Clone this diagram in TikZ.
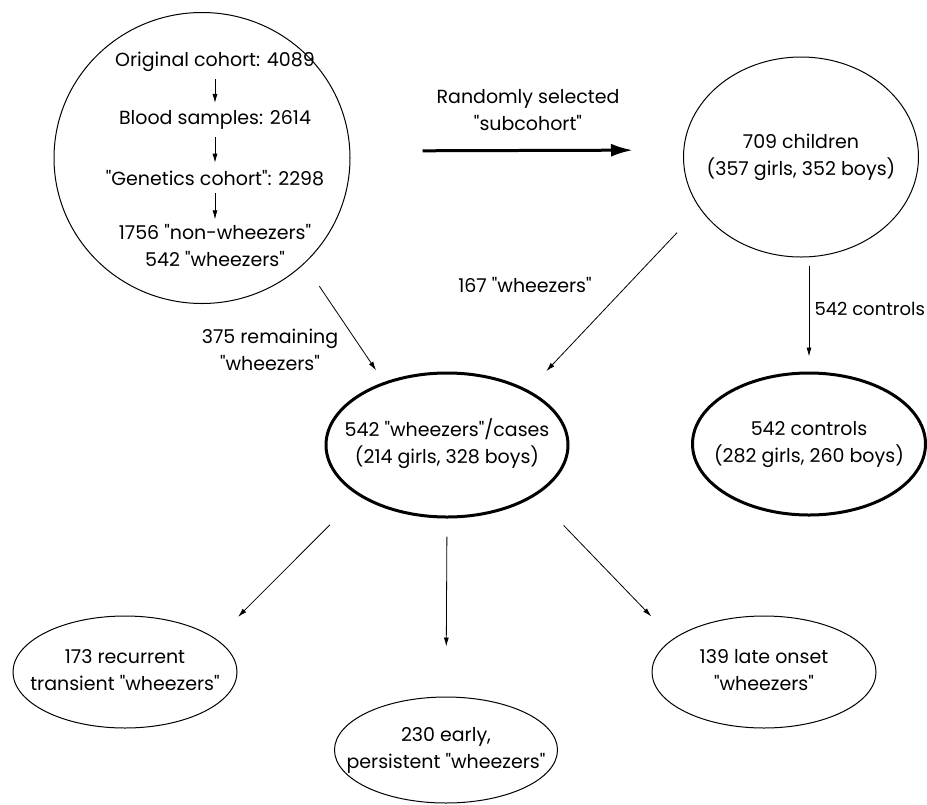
\documentclass[tikz,border=0pt]{standalone}
\usepackage{fontspec}
\setmainfont{Poppins}[Ligatures=TeXOff]
\usepackage{tikz}
\usetikzlibrary{shapes.geometric,arrows.meta}
\newcommand{\ovaltext}[1]{\makebox[0pt]{\begin{tabular}{@{}c@{}}#1\end{tabular}}}
\tikzset{
  group/.style = {shape=ellipse, draw, line width=1pt, inner sep=0pt},
  major/.style = {group, line width=3pt},
  flow/.style  = {draw, line width=0.8pt, -{Latex[length=9pt,width=5pt]}},
  note/.style  = {align=center}
}

\begin{document}
\begin{tikzpicture}
  [
    x = 1pt, y = -1pt,
    every node/.style = {font=\fontsize{19}{27}\selectfont}
  ]
  \useasboundingbox (0,0) rectangle (927,804);

  % whole cohort
  \node [group, minimum width=296pt, minimum height=291pt] (tl) at (202,158) {};
  \node (orig)  at (215,62)  {Original cohort: 4089};
  \node (blood) at (215,120) {Blood samples: 2614};
  \node (gen)   at (215,178) {"Genetics cohort": 2298};
  \node [note] (split) at (215,246) {1756 "non-wheezers"\\542 "wheezers"};
  \draw [flow, shorten <=4pt, shorten >=4pt] (orig) -- (blood);
  \draw [flow, shorten <=4pt, shorten >=4pt] (blood) -- (gen);
  \draw [flow, shorten <=4pt, shorten >=2pt] (gen) -- (split);

  % subcohort
  \node [group, minimum width=235pt, minimum height=200pt] (ch) at (801,157)
    {\ovaltext{709 children\\(357 girls, 352 boys)}};
  \draw [line width=3pt, -{Latex[length=22pt,width=13pt]},
         shorten <=72pt, shorten >=50pt]
    ([yshift=7pt]tl.east) -- ([yshift=7pt]ch.west);
  \node [note] (rand) at (528,110) {Randomly selected\\"subcohort"};

  % cases and controls
  \node [major, minimum width=242pt, minimum height=144pt] (cases) at (447,445)
    {\ovaltext{542 "wheezers"/cases\\(214 girls, 328 boys)}};
  \node [major, minimum width=233pt, minimum height=142pt] (ctrl) at (809,444)
    {\ovaltext{542 controls\\(282 girls, 260 boys)}};
  \draw [flow, shorten <=27pt, shorten >=14pt] (tl.-46) -- (cases.135);
  \draw [flow, shorten <=33pt, shorten >=26pt] (ch.-153) -- (cases.34);
  \draw [flow, shorten <=8pt, shorten >=15pt] (ch.south -| ctrl.north) -- (ctrl.north);
  \node [note] (remain) at (270,350) {375 remaining\\"wheezers"};
  \node (sel) at (525,285) {167 "wheezers"};
  \node [anchor=west, font=\fontsize{18}{27}\selectfont] (ctrllab) at (811,309)
    {542 controls};

  % wheezing phenotypes
  \node [group, minimum width=224pt, minimum height=112pt] (rec) at (125,672)
    {\ovaltext{173 recurrent\\transient "wheezers"}};
  \node [group, minimum width=223pt, minimum height=106pt] (early) at (446,750)
    {\ovaltext{230 early,\\persistent "wheezers"}};
  \node [group, minimum width=224pt, minimum height=112pt] (late) at (764,672)
    {\ovaltext{139 late onset\\"wheezers"}};
  \draw [flow, shorten <=41pt, shorten >=31pt] (cases.-150) -- (rec.20);
  \draw [flow, shorten <=18pt, shorten >=50pt] (cases.south) -- (early.north);
  \draw [flow, shorten <=41pt, shorten >=31pt] (cases.-30) -- (late.160);
\end{tikzpicture}
\end{document}
